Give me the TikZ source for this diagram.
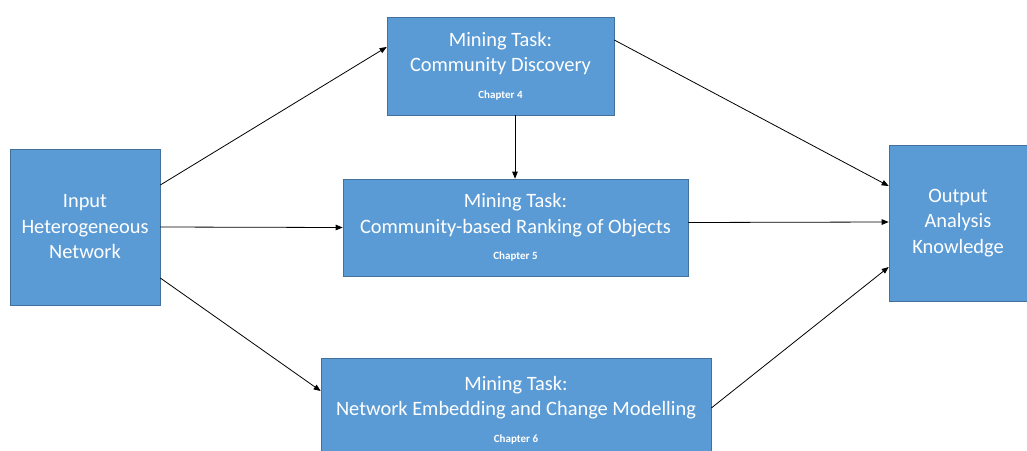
\documentclass[tikz,border=0pt]{standalone}
\usepackage{fontspec}
\setmainfont{Carlito}
\usetikzlibrary{arrows.meta}
\definecolor{boxfill}{HTML}{5B9BD5}
\definecolor{boxline}{HTML}{41719C}
\tikzset{
  taskbox/.style={rectangle, fill=boxfill, draw=boxline, line width=0.6pt,
    text=white, align=center, inner sep=0pt, font=\fontsize{20.4}{25.5}\selectfont},
  flow/.style={draw=black, line width=0.8pt, -{Triangle[length=7pt,width=5.5pt]}},
}
\newcommand{\chap}[1]{\\[1pt]{\fontsize{11}{13}\selectfont\bfseries #1}}
\begin{document}
\begin{tikzpicture}[x=1pt,y=-1pt]
  \useasboundingbox (0,0) rectangle (1027,450);
  % input and output
  \node[taskbox, minimum width=150pt, minimum height=156pt] (in) at (85,227)
    {Input\\Heterogeneous\\Network};
  \node[taskbox, minimum width=138pt, minimum height=156pt] (out) at (958,223)
    {Output\\Analysis\\Knowledge};
  % mining tasks
  \node[taskbox, minimum width=227pt, minimum height=98pt] (cd) at (500.5,66)
    {Mining Task:\\Community Discovery\chap{Chapter 4}};
  \node[taskbox, minimum width=345pt, minimum height=97pt] (rk) at (515.5,227.5)
    {Mining Task:\\Community-based Ranking of Objects\chap{Chapter 5}};
  \node[taskbox, minimum width=390pt, minimum height=104pt] (em) at (516,410)
    {Mining Task:\\Network Embedding and Change Modelling\chap{Chapter 6}};
  % connectors
  \draw[flow] ([yshift=42pt]in.east) -- ([yshift=19pt]cd.west);
  \draw[flow] (in.east) -- (rk.west);
  \draw[flow] ([yshift=-51pt]in.east) -- ([yshift=19pt]em.west);
  \draw[flow] ([xshift=14.5pt]cd.south) -- ([xshift=-0.5pt]rk.north);
  \draw[flow] ([yshift=26pt]cd.east) -- ([yshift=37pt]out.west);
  \draw[flow] ([yshift=5pt]rk.east) -- ([yshift=1pt]out.west);
  \draw[flow] ([yshift=2pt]em.east) -- ([yshift=-44pt]out.west);
\end{tikzpicture}
\end{document}
